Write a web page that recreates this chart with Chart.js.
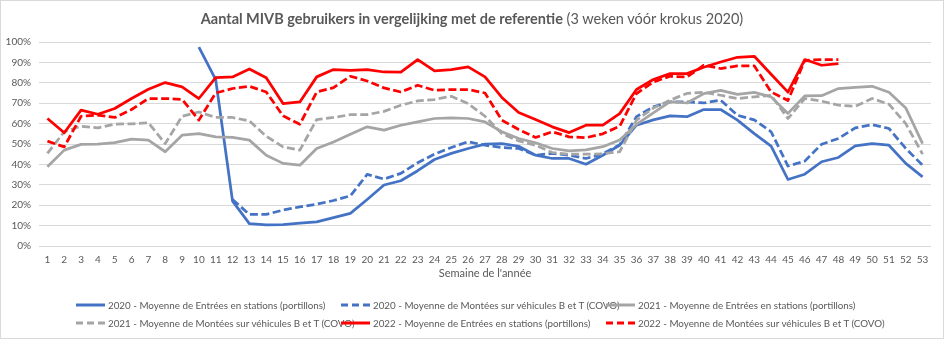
<!DOCTYPE html>
<html>
<head>
<meta charset="utf-8">
<script src="https://cdn.jsdelivr.net/npm/chart.js@4.4.1/dist/chart.umd.min.js"></script>
<style>
  html, body { margin: 0; padding: 0; background: #fff; }
  #wrap {
    position: relative;
    width: 944px;
    height: 339px;
    box-sizing: border-box;
    border: 1px solid #d9d9d9;
    font-family: 'Lato', sans-serif;
    color: #595959;
  }
  #chartBox { position: absolute; left: 0; top: 0; width: 942px; height: 337px; }
  .chart-title {
    position: absolute; left: 0; top: 9px; width: 942px;
    text-align: center; font-size: 14.5px; line-height: 18px; white-space: nowrap;
  }
  .chart-title b { font-weight: bold; }
  .legend {
    position: absolute; left: 75px; top: 295px;
    display: grid; grid-template-columns: 265px 265px 265px; grid-auto-rows: 18px;
  }
  .legend-item { display: flex; align-items: center; font-size: 9.8px; white-space: nowrap; }
  .legend-item svg { margin-right: 3px; flex: none; }
</style>
</head>
<body>
<div id="wrap">
  <div id="chartBox"><canvas id="mivbChart"></canvas></div>
  <div class="chart-title"><b>Aantal MIVB gebruikers in vergelijking met de referentie</b> (3 weken vóór krokus 2020)</div>
  <div class="legend" id="legendBox"></div>
</div>
<script>
// Weeks 1..53
const weeks = Array.from({ length: 53 }, (_, i) => String(i + 1));
const yTicks = [0, 10, 20, 30, 40, 50, 60, 70, 80, 90, 100];

// % of reference (3 weeks before krokus 2020)
const entrees2020 = [null, null, null, null, null, null, null, null, null,
  97.5, 81.5, 22, 11, 10.3, 10.5, 11.2, 11.8, 13.9, 16, 22.8,
  29.9, 32, 36.9, 42.4, 45.4, 47.8, 49.9, 50.2, 48.9, 44.5,
  42.9, 42.9, 40.1, 44.5, 49.4, 59.2, 61.8, 63.8, 63.4, 66.9,
  66.9, 61.7, 55.1, 49, 32.6, 35.2, 41.3, 43.4, 49.1, 50.2,
  49.4, 40.5, 33.9];
const montees2020 = [null, null, null, null, null, null, null, null, null, null, null,
  22.8, 15.5, 15.5, 17.6, 19.2, 20.5, 22.3, 24.6, 35.1,
  32.8, 35.6, 40.8, 45, 48.3, 51.1, 49.4, 48.3, 47.8, 44.5,
  45.4, 44.5, 42.9, 45.2, 49.6, 63.4, 68.2, 70.6, 70.6, 70.1,
  71.5, 64.1, 61.8, 56, 39.2, 41.6, 49.9, 52.7, 57.9, 59.5,
  57.6, 47.8, 39.6];
const entrees2021 = [38.8, 47, 49.8, 49.9, 50.7, 52.4, 51.9, 46.2, 54.3, 55.1,
  53.5, 53.2, 51.9, 44.5, 40.5, 39.6, 47.8, 51, 54.8, 58.4,
  56.8, 59.2, 60.8, 62.5, 62.8, 62.5, 60.8, 56, 52.7, 50.6,
  47.8, 46.6, 47.1, 48.7, 52, 59.6, 65.3, 70.8, 70.1, 74.7,
  76.3, 74.3, 75.3, 73.1, 65, 73.6, 73.7, 77.2, 77.7, 78.3,
  75.4, 67.7, 50.2];
const montees2021 = [45.4, 56, 58.7, 57.9, 59.7, 59.9, 60.4, 50.2, 63.6, 65.7,
  63, 63, 61.3, 53.8, 48.6, 47, 62, 63, 64.4, 64.4,
  66, 69, 71.1, 71.8, 73.4, 69.8, 63.6, 55.1, 51.5, 49.4,
  45.8, 45, 45, 45.2, 46.2, 61.7, 67.6, 71.5, 74.8, 75.3,
  73.9, 72.3, 73.1, 73.9, 62.5, 72.3, 71, 69, 68.5, 72.3,
  69.5, 60, 45];
const entrees2022 = [62.5, 55.5, 66.6, 64.6, 67.4, 72.3, 76.8, 80.1, 78, 72.3,
  82.5, 82.9, 86.8, 82.5, 69.8, 70.6, 82.9, 86.5, 86.1, 86.5,
  85.3, 85.2, 91.4, 85.8, 86.5, 87.8, 82.9, 72.8, 65.4, 62,
  58.4, 55.6, 59.2, 59.2, 64.9, 76.7, 81.6, 84.5, 84.5, 87.6,
  90.2, 92.5, 93, 84.2, 75.4, 91.4, 88.6, 89.4, null, null,
  null, null, null];
const montees2022 = [51.4, 48.6, 63.6, 64.1, 63, 66.9, 72.3, 72.3, 71.9, 61.7,
  75, 77.2, 78.3, 75.5, 63.8, 59.7, 75.5, 77.6, 83.2, 80.9,
  77.5, 75.5, 78.8, 76.3, 76.7, 76.7, 75, 61.7, 57.1, 53.2,
  56, 53.5, 53.1, 55, 58.7, 74.7, 80.4, 83.2, 82.9, 88.6,
  87, 88.3, 88.3, 75.5, 71.3, 91, 91.4, 91.4, null, null,
  null, null, null];

const BLUE = '#4472c4';
const GREY = '#a5a5a5';
const RED = '#ff0000';
const DASH = [8, 3.5];
const FONT = "'Lato', sans-serif";

function series(label, data, color, dashed, order) {
  return {
    label: label,
    data: data,
    borderColor: color,
    backgroundColor: color,
    borderWidth: 2.75,
    borderDash: dashed ? DASH : [],
    borderJoinStyle: 'round',
    pointRadius: 0,
    tension: 0,
    order: order
  };
}

// Excel-style legend: three fixed columns
function buildLegend(chart) {
  const box = document.getElementById('legendBox');
  box.innerHTML = chart.data.datasets.map(ds => {
    const dash = ds.borderDash.length ? 'stroke-dasharray="7 4"' : '';
    return `
      <div class="legend-item">
        <svg width="29" height="6"><line x1="0" y1="3" x2="29" y2="3" stroke="${ds.borderColor}" stroke-width="3" ${dash}/></svg>
        ${ds.label}
      </div>`;
  }).join('');
}

const ctx = document.getElementById('mivbChart').getContext('2d');
const chart = new Chart(ctx, {
  type: 'line',
  data: {
    labels: weeks,
    datasets: [
      series('2020 - Moyenne de Entrées en stations (portillons)', entrees2020, BLUE, false, 6),
      series('2020 - Moyenne de Montées sur véhicules B et T (COVO)', montees2020, BLUE, true, 5),
      series('2021 - Moyenne de Entrées en stations (portillons)', entrees2021, GREY, false, 4),
      series('2021 - Moyenne de Montées sur véhicules B et T (COVO)', montees2021, GREY, true, 3),
      series('2022 - Moyenne de Entrées en stations (portillons)', entrees2022, RED, false, 2),
      series('2022 - Moyenne de Montées sur véhicules B et T (COVO)', montees2022, RED, true, 1)
    ]
  },
  options: {
    responsive: true,
    maintainAspectRatio: false,
    animation: false,
    layout: { padding: { top: 41, left: 0, right: 12, bottom: 58 } },
    plugins: {
      legend: { display: false },
      title: { display: false },
      tooltip: { enabled: false }
    },
    scales: {
      x: {
        offset: true,
        grid: { display: false, drawTicks: false },
        border: { display: false },
        ticks: { color: '#595959', font: { family: FONT, size: 10 }, padding: 8, maxRotation: 0, autoSkip: false },
        title: { display: true, text: "Semaine de l'année", color: '#595959', font: { family: FONT, size: 11 }, padding: 0 },
        afterFit: scale => { scale.height = 34; }
      },
      y: {
        min: 0,
        max: 100,
        afterBuildTicks: scale => { scale.ticks = yTicks.map(v => ({ value: v })); },
        grid: { color: '#d9d9d9', lineWidth: 1, drawTicks: false },
        border: { display: false },
        ticks: { color: '#595959', font: { family: FONT, size: 10 }, padding: 8, callback: v => v + '%' },
        afterFit: scale => { scale.width = 38; }
      }
    }
  }
});

buildLegend(chart);
</script>
</body>
</html>
